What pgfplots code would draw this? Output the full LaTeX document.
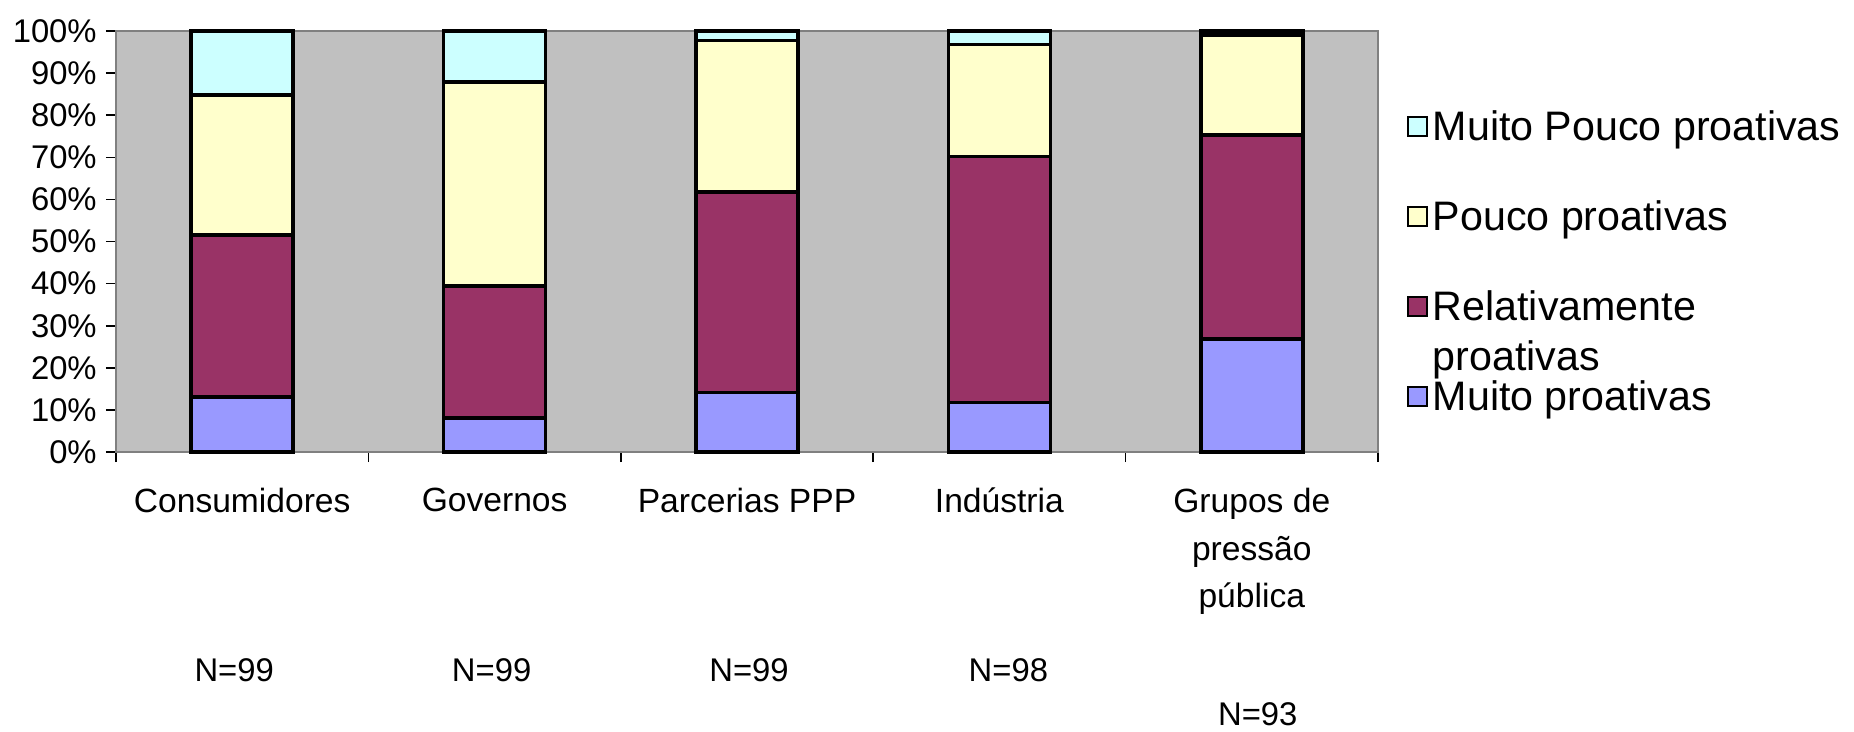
\documentclass[border=0pt]{standalone}
\usepackage{fontspec}
\setmainfont{Liberation Sans}
\usepackage{pgfplots}
\pgfplotsset{compat=1.18}

\definecolor{muitop}{HTML}{9999FF}
\definecolor{relat}{HTML}{993366}
\definecolor{pouco}{HTML}{FFFFCC}
\definecolor{mpouco}{HTML}{CCFFFF}
\definecolor{plotbg}{HTML}{C0C0C0}
\definecolor{axisgray}{HTML}{808080}

\newcommand{\lbl}{\fontsize{8.2}{11.75}\selectfont}
\newcommand{\catlbl}{\fontsize{8.4}{11.9}\selectfont}

\pgfplotsset{
  sq legend/.style={legend image code/.code={
    \draw[##1, line width=0.6pt] (0pt,-2.6pt) rectangle (4.8pt,2.2pt);}},
}

\begin{document}
\begin{tikzpicture}
\useasboundingbox (-29pt,-69.75pt) rectangle (434.5pt,113pt);
\begin{axis}[
    at={(0,0)}, anchor=south west,
    scale only axis,
    width=315.5pt, height=105.25pt,
    ybar stacked, bar width=25.5pt,
    xmin=-0.5, xmax=4.5, ymin=0, ymax=100,
    axis background/.style={fill=plotbg},
    axis line style={axisgray, line width=0.5pt},
    tick style={black, line width=0.4pt},
    tick align=outside, major tick length=2.5pt,
    xtick pos=bottom, ytick pos=left,
    xtick={-0.5,0.5,...,4.5},
    x tick label as interval,
    xticklabels={Consumidores, Governos, Parcerias PPP, Indústria, {Grupos de\\pressão\\pública}},
    xticklabel style={align=center, font=\catlbl, yshift=-3pt},
    ytick={0,10,...,100},
    yticklabel={\pgfmathprintnumber{\tick}\%},
    yticklabel style={font=\lbl, xshift=1.2pt},
    /pgf/number format/assume math mode=true,
    clip=false,
    reverse legend,
    legend cell align=left,
    legend style={draw=none, fill=none,
        at={(axis description cs:1,1)}, anchor=north west,
        xshift=7pt, yshift=-19.8pt,
        font=\fontsize{10.3}{12.5}\selectfont,
        inner sep=0pt, row sep=15.1pt, column sep=1.1pt,
        nodes={inner sep=0pt, text height=7.4pt, text depth=0pt}},
]
\addplot[fill=muitop, draw=black, line width=0.9pt, sq legend]
  coordinates {(0,13.1) (1,8.1) (2,14.1) (3,11.8) (4,26.8)};
\addlegendentry{Muito proativas}
\addplot[fill=relat, draw=black, line width=0.9pt, sq legend]
  coordinates {(0,38.4) (1,31.3) (2,47.7) (3,58.4) (4,48.5)};
\addlegendentry{\smash{\begin{tabular}[t]{@{}l@{}}Relativamente\\proativas\end{tabular}}}
\addplot[fill=pouco, draw=black, line width=0.9pt, sq legend]
  coordinates {(0,33.3) (1,48.5) (2,35.9) (3,26.6) (4,23.8)};
\addlegendentry{Pouco proativas}
\addplot[fill=mpouco, draw=black, line width=0.9pt, sq legend]
  coordinates {(0,15.2) (1,12.1) (2,2.3) (3,3.2) (4,0.9)};
\addlegendentry{Muito Pouco proativas}

\node[font=\lbl, xshift=-2pt, yshift=-54.5pt] at (axis cs:0,0) {N=99};
\node[font=\lbl, xshift=-0.75pt, yshift=-54.5pt] at (axis cs:1,0) {N=99};
\node[font=\lbl, xshift=0.5pt, yshift=-54.5pt] at (axis cs:2,0) {N=99};
\node[font=\lbl, xshift=2.25pt, yshift=-54.5pt] at (axis cs:3,0) {N=98};
\node[font=\lbl, xshift=1.5pt, yshift=-65.5pt] at (axis cs:4,0) {N=93};
\end{axis}
\end{tikzpicture}
\end{document}
